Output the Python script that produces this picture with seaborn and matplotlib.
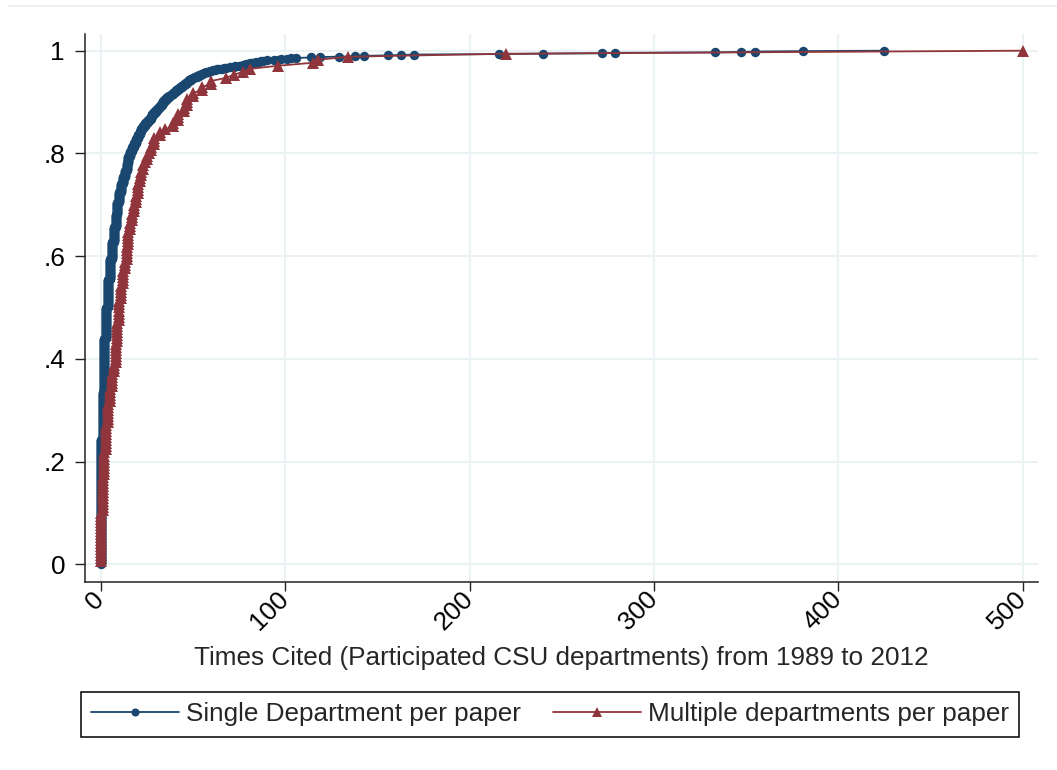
import numpy as np
import pandas as pd
import matplotlib
matplotlib.use("Agg")
import matplotlib.pyplot as plt
from matplotlib.lines import Line2D
import seaborn as sns

# Number of papers at each citation count, papers written by a single department
single_cited = list(range(0, 41)) + list(range(41, 61)) + [
    61, 62, 63, 64, 66, 67, 68, 70, 72, 73, 75,
    76, 77, 78, 79, 80, 81, 82, 83, 84, 86, 87, 88, 90,
    94, 96, 98, 101, 103, 106, 114, 119, 129, 138, 143, 156, 163, 170,
    216, 240, 272, 279, 333, 347, 355, 381, 425]
single_papers = [
    293, 111, 126, 73, 66, 48, 40, 35, 30, 28,
    24, 20, 16, 15, 17, 16, 12, 10, 9, 11,
    10, 7, 7, 6, 6, 5, 5, 6, 6, 5,
    5, 5, 5, 5, 5, 5, 4, 4, 3, 4, 3,
    3, 4, 3, 4, 3, 3, 3, 4, 3, 2,
    2, 2, 2, 2, 2, 2, 1, 2, 1, 1,
    1, 1, 1, 1, 1, 1, 1, 1, 1, 1, 1,
    1, 1, 1, 1, 1, 1, 1, 1, 1, 1, 1, 1, 1,
    1, 1, 1, 1, 1, 1, 1, 1, 1, 1, 1, 1, 1, 1,
    1, 1, 1, 1, 1, 1, 1, 1, 1]

# Number of papers at each citation count, papers shared by several departments
multi_cited = [0, 1, 2, 3, 4, 5, 6, 7, 8, 9, 10, 11, 12, 13, 14, 15, 16, 17,
               18, 19, 20, 21, 22, 23, 24, 25, 26, 27, 29, 32, 35, 39, 42, 45,
               47, 50, 55, 60, 68, 72, 77, 81, 96, 115, 118, 134, 220, 500]
multi_papers = [17, 12, 8, 9, 7, 5, 5, 3, 7, 7, 7, 5, 5, 3, 5, 5, 3, 3,
                3, 3, 4, 2, 2, 2, 1, 2, 1, 2, 3, 2, 1, 2, 3, 2,
                3, 2, 2, 2, 1, 1, 1, 1, 1, 1, 1, 1, 1, 1]

series_labels = ["Single Department per paper", "Multiple departments per paper"]
series_colors = ["#1a476f", "#90353b"]
series_markers = ["o", "^"]
marker_sizes = [6.8, 8.0]
x_ticks = [0, 100, 200, 300, 400, 500]
y_ticks = [0, 0.2, 0.4, 0.6, 0.8, 1.0]
y_tick_labels = ["0", ".2", ".4", ".6", ".8", "1"]
x_title = "Times Cited (Participated CSU departments) from 1989 to 2012"


def cumulative_share(cited, papers, label):
    """One row per paper, sorted by citations, with its cumulative share."""
    obs = np.repeat(np.asarray(cited), np.asarray(papers))
    share = np.arange(1, len(obs) + 1) / len(obs)
    return pd.DataFrame({"cited": obs, "share": share, "group": label})


df = pd.concat([
    cumulative_share(single_cited, single_papers, series_labels[0]),
    cumulative_share(multi_cited, multi_papers, series_labels[1]),
], ignore_index=True)

sns.set_style("white")
plt.rcParams["font.family"] = ["Liberation Sans", "DejaVu Sans"]
FS = 18.8

fig = plt.figure(figsize=(10.57, 7.70), dpi=100)
ax = fig.add_axes([85 / 1057, 1 - 582 / 770, (1038 - 85) / 1057, (582 - 34) / 770])

grid_color = "#eaf2f3"
for gx in x_ticks:
    ax.axvline(gx, color=grid_color, lw=1.5, zorder=0)
for gy in y_ticks:
    ax.axhline(gy, color=grid_color, lw=1.5, zorder=0)

sns.lineplot(
    data=df, x="cited", y="share", hue="group", style="group",
    hue_order=series_labels, style_order=series_labels,
    palette=series_colors, markers=series_markers, dashes=False,
    estimator=None, legend=False, ax=ax,
    linewidth=1.3, markersize=marker_sizes[0], markeredgewidth=0,
)
# the triangles are drawn a little larger than the circles
ax.get_lines()[-1].set_markersize(marker_sizes[1])

ax.set_xlim(-8.57, 508.3)
ax.set_ylim(-0.0345, 1.0325)

ax.set_xticks(x_ticks)
ax.set_xticklabels([str(t) for t in x_ticks], rotation=45, ha="right",
                   va="center", rotation_mode="anchor", fontsize=FS)
ax.set_yticks(y_ticks)
ax.set_yticklabels(y_tick_labels, fontsize=FS)
ax.tick_params(axis="y", length=7.2, width=1.0, pad=7.2, colors="#222222",
               labelcolor="black", left=True)
ax.tick_params(axis="x", length=6.5, width=1.0, pad=3.2, colors="#222222",
               labelcolor="black", bottom=True)

for side in ["top", "right"]:
    ax.spines[side].set_visible(False)
for side in ["left", "bottom"]:
    ax.spines[side].set_color("#222222")
    ax.spines[side].set_linewidth(1.1)

ax.set_xlabel(x_title, fontsize=FS)
ax.xaxis.set_label_coords(0.5, -0.1168)
ax.set_ylabel("")

handles = [
    Line2D([], [], color=c, marker=m, lw=1.3, markersize=s * 0.85, markeredgewidth=0)
    for c, m, s in zip(series_colors, series_markers, marker_sizes)
]
leg = fig.legend(
    handles, series_labels, loc="center",
    bbox_to_anchor=(550 / 1057, 1 - 714.5 / 770), ncol=2, fontsize=FS,
    frameon=True, fancybox=False, framealpha=1, edgecolor="black",
    handlelength=3.37, handletextpad=0.27, columnspacing=1.23,
    borderpad=0.4, numpoints=1,
)
leg.get_frame().set_linewidth(1.1)

# thin outline along the top of the graph region
fig.add_artist(Line2D([8 / 1057, 1], [1 - 6 / 770, 1 - 6 / 770],
                      transform=fig.transFigure, color="#e6eef0", lw=1.2))

fig.savefig("out.png", dpi=100)
